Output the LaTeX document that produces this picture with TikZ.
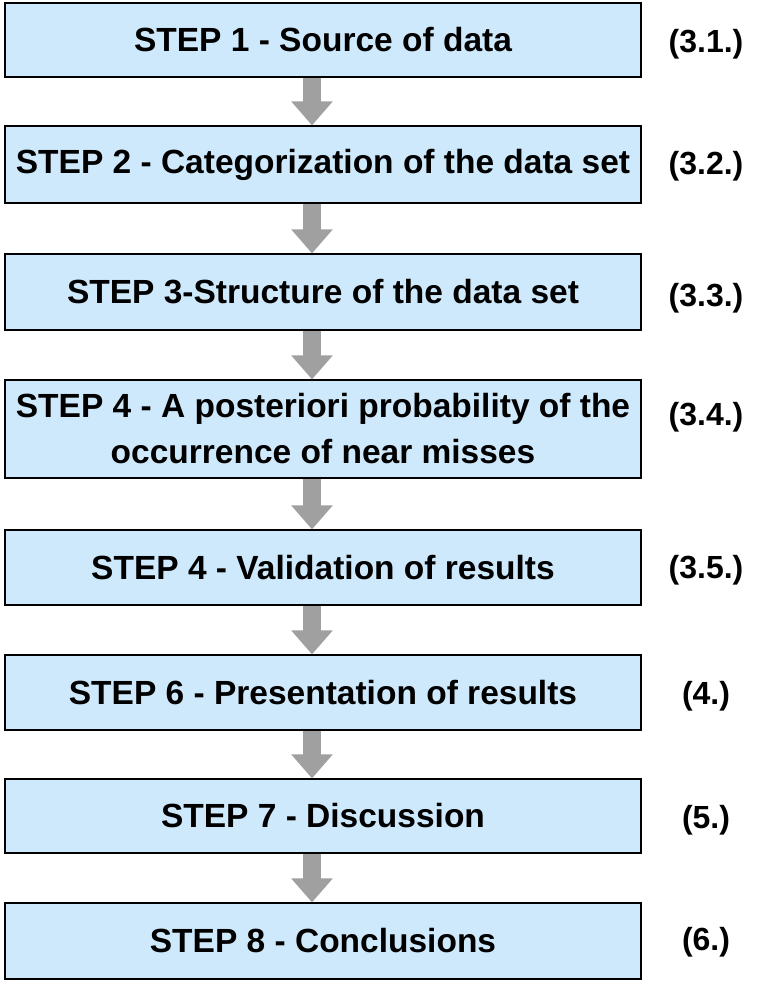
\documentclass[tikz,border=0pt]{standalone}
\usepackage{fontspec}
\setmainfont{Liberation Sans}
\definecolor{stepblue}{RGB}{207,233,252}
\definecolor{arrowgray}{RGB}{160,160,160}
\tikzset{
  stepbox/.style={draw, line width=1.2pt, fill=stepblue, minimum width=636pt, align=center, font=\bfseries\fontsize{33.5}{46}\selectfont},
  reflabel/.style={font=\bfseries\fontsize{32}{38}\selectfont},
  flowarrow/.style={draw=arrowgray, line width=18pt, -{Triangle[width=40pt,length=24pt]}}
}
\usetikzlibrary{arrows.meta}
\begin{document}
\begin{tikzpicture}[x=1pt,y=-1pt]
      \useasboundingbox (0,0) rectangle (762,986);
      \node[stepbox, minimum height=74pt] (1) at (323,40) {STEP 1 - Source of data};
      \node[stepbox, minimum height=77pt] (2) at (323,164.5) {STEP 2 - Categorization of the data set};
      \node[stepbox, minimum height=76pt] (3) at (323,292) {STEP 3-Structure of the data set};
      \node[stepbox, minimum height=98pt] (4) at (323,429) {STEP 4 - A posteriori probability of the\\occurrence of near misses};
      \node[stepbox, minimum height=75pt] (5) at (323,567.5) {STEP 4 - Validation of results};
      \node[stepbox, minimum height=75pt] (6) at (323,692.5) {STEP 6 - Presentation of results};
      \node[stepbox, minimum height=74pt] (7) at (323,816) {STEP 7 - Discussion};
      \node[stepbox, minimum height=76pt] (8) at (323,941) {STEP 8 - Conclusions};

      \foreach \num/\ypos/\txt in {1/44/(3.1.), 2/166/(3.2.), 3/298/(3.3.), 4/417/(3.4.), 5/570/(3.5.), 6/696/(4.), 7/820/(5.), 8/942/(6.)}
        \node[reflabel] (r\num) at (706,\ypos) {\txt};

      \foreach \source/\dest in {1/2, 2/3, 3/4, 4/5, 5/6, 6/7, 7/8}
        \path ([xshift=-11pt]\source.south) edge[flowarrow] ([xshift=-11pt]\dest.north);
    \end{tikzpicture}
\end{document}
